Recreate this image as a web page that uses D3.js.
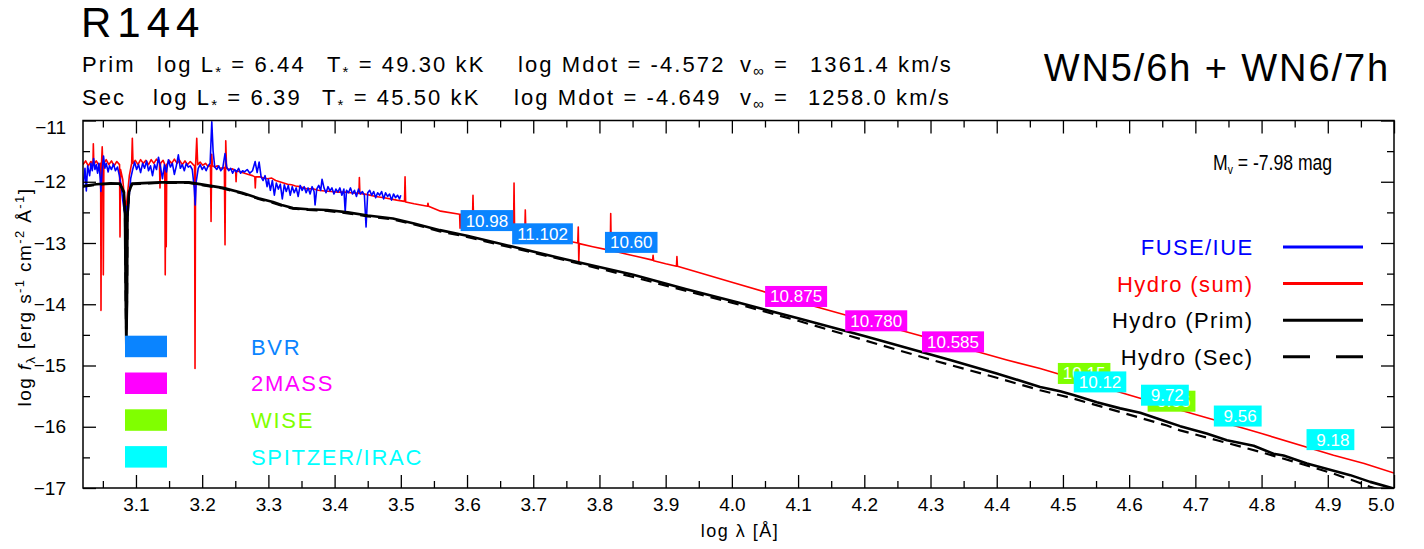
<!DOCTYPE html>
<html>
<head>
<meta charset="utf-8">
<script src="https://cdn.jsdelivr.net/npm/d3@7"></script>
<style>
  body { margin: 0; background: #fff; }
  svg { display: block; font-family: "Liberation Sans", Arial, sans-serif; }
</style>
</head>
<body>
<svg id="chart" width="1424" height="549"></svg>
<script>
// observed UV spectrum (log lambda, log f)
const fuseIue = [
  [3.020,-12.10],[3.023,-11.78],[3.025,-12.15],[3.027,-11.74],[3.030,-11.90],[3.032,-11.70],[3.034,-11.82],[3.036,-11.62],
  [3.038,-11.80],[3.040,-11.72],[3.042,-11.86],[3.044,-11.70],[3.046,-11.95],[3.047,-12.16],[3.049,-11.80],[3.051,-11.58],
  [3.053,-11.78],[3.055,-11.70],[3.058,-11.84],[3.060,-11.74],[3.063,-11.80],[3.066,-11.71],[3.069,-11.82],[3.072,-11.76],
  [3.075,-11.90],[3.078,-12.10],[3.080,-12.30],[3.082,-12.45],[3.084,-12.57],[3.086,-12.40],[3.088,-12.55],[3.090,-12.20],
  [3.092,-11.95],[3.095,-11.80],[3.098,-11.68],[3.101,-11.80],[3.104,-11.72],[3.107,-11.85],[3.110,-11.70],[3.113,-11.78],
  [3.116,-11.66],[3.119,-11.82],[3.122,-11.74],[3.125,-11.90],[3.128,-11.72],[3.131,-11.80],[3.134,-11.60],[3.137,-11.76],
  [3.140,-11.95],[3.143,-11.72],[3.146,-11.84],[3.149,-11.64],[3.152,-11.76],[3.155,-11.70],[3.158,-11.88],[3.161,-11.74],
  [3.164,-11.56],[3.167,-11.78],[3.170,-11.72],[3.173,-11.82],[3.176,-11.70],[3.179,-11.76],[3.182,-11.74],[3.185,-11.80],
  [3.188,-12.10],[3.1895,-12.38],[3.191,-12.00],[3.194,-11.78],[3.197,-11.72],[3.200,-11.80],[3.203,-11.75],[3.206,-11.82],
  [3.209,-11.74],[3.212,-11.70],[3.2145,-11.02],[3.2165,-11.50],[3.219,-11.76],[3.222,-11.80],[3.225,-11.74],[3.228,-11.82],
  [3.231,-11.78],[3.2345,-11.54],[3.237,-11.76],[3.240,-11.82],[3.243,-11.78],[3.246,-11.86],[3.249,-11.80],[3.252,-11.84],
  [3.255,-11.78],[3.258,-11.86],[3.261,-11.82],[3.264,-11.84],[3.268,-11.80],[3.272,-11.86],[3.276,-11.82],[3.280,-11.67],
  [3.283,-11.85],[3.286,-11.68],[3.289,-11.92],[3.292,-11.98],[3.295,-11.90],[3.298,-12.08],[3.300,-11.96],[3.303,-12.14],
  [3.306,-11.98],[3.309,-12.22],[3.312,-12.02],[3.315,-12.12],[3.318,-12.04],[3.321,-12.28],[3.324,-12.05],[3.327,-12.16],
  [3.330,-12.06],[3.333,-12.22],[3.336,-12.08],[3.339,-12.18],[3.342,-12.10],[3.345,-12.24],[3.348,-12.06],[3.351,-12.14],
  [3.354,-12.08],[3.357,-12.18],[3.360,-12.10],[3.363,-12.20],[3.366,-12.08],[3.369,-12.16],[3.3705,-12.38],[3.373,-12.12],
  [3.376,-12.06],[3.379,-12.14],[3.381,-11.96],[3.384,-12.10],[3.387,-12.18],[3.390,-12.08],[3.393,-12.15],[3.396,-12.10],
  [3.399,-12.20],[3.402,-12.12],[3.405,-12.17],[3.408,-12.10],[3.411,-12.22],[3.414,-12.12],[3.416,-12.49],[3.418,-12.14],
  [3.421,-12.18],[3.424,-12.10],[3.427,-12.20],[3.430,-12.14],[3.433,-12.24],[3.436,-12.12],[3.439,-12.20],[3.442,-12.16],
  [3.445,-12.22],[3.4475,-12.74],[3.450,-12.18],[3.453,-12.14],[3.456,-12.22],[3.459,-12.16],[3.462,-12.26],[3.465,-12.18],
  [3.468,-12.22],[3.471,-12.16],[3.474,-12.28],[3.477,-12.18],[3.480,-12.24],[3.483,-12.20],[3.486,-12.30],[3.489,-12.20],
  [3.492,-12.26],[3.495,-12.22],[3.498,-12.28],[3.500,-12.22]
];

// model: sum of both components
const hydroSum = [
  [3.020,-11.72],[3.024,-11.66],[3.028,-11.74],[3.032,-11.67],[3.0350,-11.72],[3.0356,-11.38],[3.0364,-11.72],[3.040,-11.66],
  [3.044,-11.73],[3.0466,-11.70],[3.0472,-14.10],[3.0479,-11.72],[3.0490,-11.43],[3.0500,-11.74],[3.0507,-13.52],[3.0515,-11.70],
  [3.055,-11.64],[3.059,-11.72],[3.063,-11.66],[3.067,-11.74],[3.071,-11.67],[3.0752,-11.72],[3.0759,-12.90],[3.0767,-11.80],
  [3.080,-11.96],[3.083,-12.30],[3.085,-12.46],[3.087,-12.22],[3.090,-11.90],[3.0935,-11.70],[3.0945,-11.29],[3.0955,-11.70],
  [3.099,-11.65],[3.103,-11.72],[3.107,-11.64],[3.111,-11.70],[3.115,-11.65],[3.119,-11.72],[3.123,-11.64],[3.127,-11.70],
  [3.131,-11.63],[3.1355,-11.70],[3.1363,-12.10],[3.1371,-11.70],[3.141,-11.65],[3.1435,-11.72],[3.1442,-13.52],[3.1450,-11.74],
  [3.1457,-13.06],[3.1465,-11.72],[3.150,-11.65],[3.154,-11.70],[3.158,-11.63],[3.162,-11.70],[3.166,-11.65],[3.170,-11.72],
  [3.174,-11.66],[3.178,-11.72],[3.182,-11.67],[3.1865,-11.72],[3.1885,-11.74],[3.1892,-15.05],[3.1900,-11.74],[3.1918,-11.29],
  [3.1932,-11.72],[3.197,-11.68],[3.201,-11.73],[3.205,-11.70],[3.209,-11.75],[3.2125,-11.73],[3.2134,-12.65],[3.2144,-11.55],
  [3.2155,-11.74],[3.219,-11.76],[3.223,-11.74],[3.227,-11.78],[3.2335,-11.77],[3.2345,-13.03],[3.2356,-11.33],[3.2368,-11.78],
  [3.241,-11.80],[3.246,-11.79],[3.2505,-11.82],[3.2512,-12.00],[3.252,-11.82],[3.258,-11.84],[3.264,-11.86],[3.270,-11.88],
  [3.276,-11.90],[3.2795,-11.92],[3.2802,-12.10],[3.281,-11.92],[3.287,-11.92],[3.293,-11.94],[3.299,-11.95],[3.305,-11.94],
  [3.311,-11.98],[3.317,-12.00],[3.323,-12.02],[3.329,-12.04],[3.335,-12.05],[3.341,-12.07],[3.347,-12.08],[3.353,-12.10],
  [3.359,-12.12],[3.366,-12.11],[3.375,-12.14],[3.385,-12.15],[3.395,-12.16],[3.405,-12.17],[3.415,-12.17],[3.425,-12.18],
  [3.4368,-12.19],[3.4374,-11.93],[3.4382,-12.19],[3.450,-12.21],[3.462,-12.24],[3.475,-12.26],[3.4939,-12.30],[3.5056,-12.32],
  [3.5064,-11.92],[3.5073,-12.33],[3.520,-12.36],[3.5403,-12.40],[3.541,-12.35],[3.5418,-12.40],[3.560,-12.48],[3.5888,-12.53],
  [3.5895,-12.76],[3.5903,-12.53],[3.600,-12.56],[3.6083,-12.58],[3.609,-12.22],[3.6098,-12.58],[3.630,-12.64],[3.650,-12.70],
  [3.6703,-12.76],[3.671,-12.02],[3.6718,-12.76],[3.6873,-12.80],[3.688,-12.46],[3.6888,-12.80],[3.700,-12.84],[3.720,-12.89],
  [3.740,-12.94],[3.7672,-13.00],[3.768,-12.74],[3.7688,-13.31],[3.7696,-13.01],[3.790,-13.06],[3.8163,-13.12],[3.817,-12.52],
  [3.8178,-13.12],[3.840,-13.18],[3.860,-13.23],[3.8803,-13.28],[3.881,-13.20],[3.8818,-13.29],[3.900,-13.34],[3.9163,-13.38],
  [3.917,-13.22],[3.9178,-13.38],[3.950,-13.48],[4.000,-13.64],[4.100,-13.96],[4.200,-14.26],[4.300,-14.56],[4.4153,-14.91],
  [4.4656,-15.05],[4.600,-15.48],[4.700,-15.80],[4.778,-16.04],[4.800,-16.11],[4.9087,-16.466],[4.955,-16.60],[5.000,-16.755]
];

// model: primary
const hydroPrim = [
  [3.020,-12.07],[3.040,-12.04],[3.061,-12.026],[3.0759,-12.03],[3.0819,-12.17],[3.0834,-12.54],[3.0845,-13.93],[3.0854,-14.67],
  [3.0865,-13.93],[3.0872,-12.54],[3.0895,-12.17],[3.094,-12.03],[3.136,-12.01],[3.180,-12.01],[3.2315,-12.10],[3.260,-12.18],
  [3.285,-12.27],[3.307,-12.33],[3.320,-12.38],[3.337,-12.43],[3.360,-12.45],[3.389,-12.46],[3.420,-12.50],[3.450,-12.55],
  [3.488,-12.60],[3.520,-12.68],[3.559,-12.79],[3.600,-12.88],[3.665,-13.05],[3.750,-13.27],[3.851,-13.52],[3.930,-13.75],
  [4.0125,-13.98],[4.100,-14.23],[4.200,-14.52],[4.3297,-14.91],[4.400,-15.13],[4.4656,-15.35],[4.4958,-15.42],[4.5159,-15.48],
  [4.5512,-15.60],[4.5865,-15.70],[4.6167,-15.77],[4.657,-15.92],[4.677,-15.99],[4.717,-16.11],[4.7476,-16.22],[4.788,-16.31],
  [4.818,-16.44],[4.8332,-16.47],[4.8685,-16.60],[4.934,-16.79],[4.964,-16.90],[5.000,-17.01]
];

// model: secondary
const hydroSec = [
  [3.020,-12.08],[3.040,-12.05],[3.061,-12.035],[3.0759,-12.04],[3.0819,-12.18],[3.0834,-12.56],[3.0845,-13.95],[3.0854,-14.68],
  [3.0865,-13.95],[3.0872,-12.56],[3.0895,-12.18],[3.094,-12.04],[3.136,-12.02],[3.180,-12.02],[3.2315,-12.11],[3.260,-12.19],
  [3.285,-12.28],[3.307,-12.345],[3.320,-12.39],[3.337,-12.44],[3.360,-12.46],[3.389,-12.475],[3.420,-12.515],[3.450,-12.565],
  [3.488,-12.615],[3.520,-12.695],[3.559,-12.81],[3.600,-12.90],[3.665,-13.07],[3.750,-13.285],[3.851,-13.555],[3.930,-13.78],
  [4.0125,-14.01],[4.100,-14.27],[4.2944,-14.886],[4.400,-15.20],[4.4656,-15.404],[4.5159,-15.54],[4.5865,-15.76],[4.657,-15.98],
  [4.677,-16.06],[4.7326,-16.22],[4.7977,-16.41],[4.858,-16.60],[4.9087,-16.765],[4.964,-16.98],[5.000,-17.10]
];

// photometry
const bvrWave = [3.630, 3.714, 3.848];
const bvrFlux = [-12.634, -12.85, -12.99];
const bvrMag = ['10.98', '11.102', '10.60'];
const massWave = [4.097, 4.218, 4.334];
const massFlux = [-13.873, -14.27, -14.614];
const massMag = ['10.875', '10.780', '10.585'];
const wiseWave = [4.532, 4.664];
const wiseFlux = [-15.13, -15.583];
const wiseMag = ['10.15', '9.66'];
const iracWave = [4.556, 4.654, 4.764, 4.904];
const iracFlux = [-15.268, -15.485, -15.825, -16.21];
const iracMag = ['10.12', '9.72', '9.56', '9.18'];

const photNames = ['BVR', '2MASS', 'WISE', 'SPITZER/IRAC'];
const photColors = ['#0a84ff', '#ff00ff', '#80ff00', '#00ffff'];

const lineNames = ['FUSE/IUE', 'Hydro (sum)', 'Hydro (Prim)', 'Hydro (Sec)'];
const lineColors = ['#0000ff', '#ff0000', '#000000', '#000000'];

const xMajor = [3.1, 3.2, 3.3, 3.4, 3.5, 3.6, 3.7, 3.8, 3.9, 4.0, 4.1, 4.2, 4.3, 4.4, 4.5, 4.6, 4.7, 4.8, 4.9, 5.0];
const xMinor = [3.05, 3.15, 3.25, 3.35, 3.45, 3.55, 3.65, 3.75, 3.85, 3.95, 4.05, 4.15, 4.25, 4.35, 4.45, 4.55, 4.65, 4.75, 4.85, 4.95];
const yMajor = [-17, -16, -15, -14, -13, -12, -11];
const yMinor = [-16.5, -15.5, -14.5, -13.5, -12.5, -11.5];

const svg = d3.select('#chart');
const pL = 83, pR = 1394, pT = 120.5, pB = 488;

const x = d3.scaleLinear().domain([3.02, 5.0]).range([pL, pR]);
const y = d3.scaleLinear().domain([-17, -11]).range([pB, pT]);

// header
const head = svg.append('g').attr('fill', '#000');
head.append('text').attr('x', 81).attr('y', 37).attr('font-size', 42)
    .attr('letter-spacing', 6).text('R144');
head.append('text').attr('x', 1390).attr('y', 81).attr('font-size', 38)
    .attr('text-anchor', 'end').attr('letter-spacing', 1.9).text('WN5/6h + WN6/7h');

const addStar = (t, pre, post) => {
    t.append('tspan').text(pre);
    t.append('tspan').attr('font-size', 15).attr('dy', 5).text('*');
    t.append('tspan').attr('dy', -5).text(post);
};

const headRows = [
    { y: 72, name: 'Prim', lx: 157, lum: ' = 6.44', tx: 327, temp: ' = 49.30 kK', mx: 518, mdot: 'log Mdot = -4.572', vx: 810, vinf: '1361.4 km/s' },
    { y: 105, name: 'Sec', lx: 153, lum: ' = 6.39', tx: 322, temp: ' = 45.50 kK', mx: 514, mdot: 'log Mdot = -4.649', vx: 808, vinf: '1258.0 km/s' }
];
headRows.forEach((r) => {
    const g = head.append('g').attr('font-size', 22).attr('letter-spacing', 2.1);
    g.append('text').attr('x', 82).attr('y', r.y).text(r.name);
    addStar(g.append('text').attr('x', r.lx).attr('y', r.y), 'log L', r.lum);
    addStar(g.append('text').attr('x', r.tx).attr('y', r.y), 'T', r.temp);
    g.append('text').attr('x', r.mx).attr('y', r.y).text(r.mdot);
    const v = g.append('text').attr('x', 740).attr('y', r.y);
    v.append('tspan').text('v');
    v.append('tspan').attr('font-size', 15).attr('dy', 4).text('\u221e');
    v.append('tspan').attr('dy', -4).text(' =');
    g.append('text').attr('x', r.vx).attr('y', r.y).text(r.vinf);
});

// clip
svg.append('defs').append('clipPath').attr('id', 'plotclip')
    .append('rect').attr('x', pL).attr('y', pT).attr('width', pR - pL).attr('height', pB - pT);

const plot = svg.append('g').attr('clip-path', 'url(#plotclip)');
const line = d3.line().x((d) => x(d[0])).y((d) => y(d[1]));

plot.append('path').datum(hydroSum).attr('d', line)
    .attr('fill', 'none').attr('stroke', '#ff0000').attr('stroke-width', 1.6).attr('stroke-linejoin', 'round');
plot.append('path').datum(fuseIue).attr('d', line)
    .attr('fill', 'none').attr('stroke', '#0000ff').attr('stroke-width', 1.6).attr('stroke-linejoin', 'round');
plot.append('path').datum(hydroSec).attr('d', line)
    .attr('fill', 'none').attr('stroke', '#000').attr('stroke-width', 2.2).attr('stroke-dasharray', '11 7');
plot.append('path').datum(hydroPrim).attr('d', line)
    .attr('fill', 'none').attr('stroke', '#000').attr('stroke-width', 2.6).attr('stroke-linejoin', 'round');

// photometry boxes
const drawPhot = (waves, fluxes, mags, color) => {
    waves.forEach((w, i) => {
        const g = plot.append('g').attr('transform', `translate(${x(w)},${y(fluxes[i])})`);
        const t = g.append('text').attr('fill', '#fff').attr('font-size', 17)
            .style('white-space', 'pre').text(mags[i].padStart(5, ' '));
        const bw = t.node().getComputedTextLength() + 10;
        t.attr('x', -bw / 2 + 5).attr('y', 6);
        g.insert('rect', 'text').attr('x', -bw / 2).attr('y', -10.5)
            .attr('width', bw).attr('height', 21).attr('fill', color);
    });
};
drawPhot(bvrWave, bvrFlux, bvrMag, photColors[0]);
drawPhot(massWave, massFlux, massMag, photColors[1]);
drawPhot(wiseWave, wiseFlux, wiseMag, photColors[2]);
drawPhot(iracWave, iracFlux, iracMag, photColors[3]);

// photometry legend
const pleg = svg.append('g');
photNames.forEach((name, i) => {
    const yy = 346.5 + i * 36.8;
    pleg.append('rect').attr('x', 125).attr('y', yy - 10.8).attr('width', 42).attr('height', 21.5)
        .attr('fill', photColors[i]);
    pleg.append('text').attr('x', 251).attr('y', yy + 8).attr('font-size', 22)
        .attr('letter-spacing', 1.7).attr('fill', photColors[i]).text(name);
});

// line legend
const lleg = svg.append('g');
lineNames.forEach((name, i) => {
    const yy = 247 + i * 36.6;
    lleg.append('text').attr('x', 1253.5).attr('y', yy + 8).attr('font-size', 22)
        .attr('letter-spacing', 1.4).attr('text-anchor', 'end').attr('fill', lineColors[i]).text(name);
    lleg.append('line').attr('x1', 1283).attr('x2', 1363).attr('y1', yy).attr('y2', yy)
        .attr('stroke', lineColors[i]).attr('stroke-width', 3)
        .attr('stroke-dasharray', i === 3 ? '27 26' : null);
});

// Mv
const mv = svg.append('text').attr('transform', 'translate(1213,169.5) scale(0.8,1)').attr('font-size', 22);
mv.append('tspan').text('M');
mv.append('tspan').attr('font-size', 13).attr('dy', 4).text('v');
mv.append('tspan').attr('dy', -4).text(' = -7.98 mag');

// axes
const axisStyle = (g) => {
    g.select('.domain').remove();
    g.selectAll('line').attr('stroke', '#000').attr('stroke-width', 1.3);
    g.selectAll('text').attr('font-size', 19).attr('fill', '#000').attr('font-family', '"Liberation Sans", Arial, sans-serif');
};

const xb = svg.append('g').attr('transform', `translate(0,${pB})`)
    .call(d3.axisBottom(x).tickValues(xMajor).tickSize(-13).tickPadding(9.2).tickFormat(d3.format('.1f')))
    .call(axisStyle);
xb.selectAll('.tick').filter((d) => d === 5.0).select('text').attr('text-anchor', 'end').attr('x', 0);
svg.append('g').attr('transform', `translate(0,${pB})`)
    .call(d3.axisBottom(x).tickValues(xMinor).tickSize(-7).tickFormat(''))
    .call(axisStyle);
svg.append('g').attr('transform', `translate(0,${pT})`)
    .call(d3.axisTop(x).tickValues(xMajor).tickSize(-13).tickFormat(''))
    .call(axisStyle);
svg.append('g').attr('transform', `translate(0,${pT})`)
    .call(d3.axisTop(x).tickValues(xMinor).tickSize(-7).tickFormat(''))
    .call(axisStyle);

const yl = svg.append('g').attr('transform', `translate(${pL},0)`)
    .call(d3.axisLeft(y).tickValues(yMajor).tickSize(-13).tickPadding(17).tickFormat(d3.format('d')))
    .call(axisStyle);
yl.selectAll('.tick').filter((d) => d === -11).select('text').attr('y', 7);
svg.append('g').attr('transform', `translate(${pL},0)`)
    .call(d3.axisLeft(y).tickValues(yMinor).tickSize(-7).tickFormat(''))
    .call(axisStyle);
svg.append('g').attr('transform', `translate(${pR},0)`)
    .call(d3.axisRight(y).tickValues(yMajor).tickSize(-13).tickFormat(''))
    .call(axisStyle);
svg.append('g').attr('transform', `translate(${pR},0)`)
    .call(d3.axisRight(y).tickValues(yMinor).tickSize(-7).tickFormat(''))
    .call(axisStyle);

// frame
svg.append('rect').attr('x', pL).attr('y', pT).attr('width', pR - pL).attr('height', pB - pT)
    .attr('fill', 'none').attr('stroke', '#000').attr('stroke-width', 1.5);

// axis titles
svg.append('text').attr('x', 740).attr('y', 537).attr('font-size', 18).attr('text-anchor', 'middle')
    .attr('letter-spacing', 1.5).text('log \u03bb [\u00c5]');

const yt = svg.append('text').attr('transform', 'translate(31,297) rotate(-90)')
    .attr('font-size', 19).attr('letter-spacing', 1.4).attr('text-anchor', 'middle');
yt.append('tspan').text('log ');
yt.append('tspan').attr('font-style', 'italic').text('f');
yt.append('tspan').attr('font-size', 13).attr('dy', 4).text('\u03bb');
yt.append('tspan').attr('dy', -4).text(' [erg s');
yt.append('tspan').attr('font-size', 13).attr('dy', -7).text('-1');
yt.append('tspan').attr('dy', 7).text(' cm');
yt.append('tspan').attr('font-size', 13).attr('dy', -7).text('-2');
yt.append('tspan').attr('dy', 7).text(' \u00c5');
yt.append('tspan').attr('font-size', 13).attr('dy', -7).text('-1');
yt.append('tspan').attr('dy', 7).text(']');
</script>
</body>
</html>
